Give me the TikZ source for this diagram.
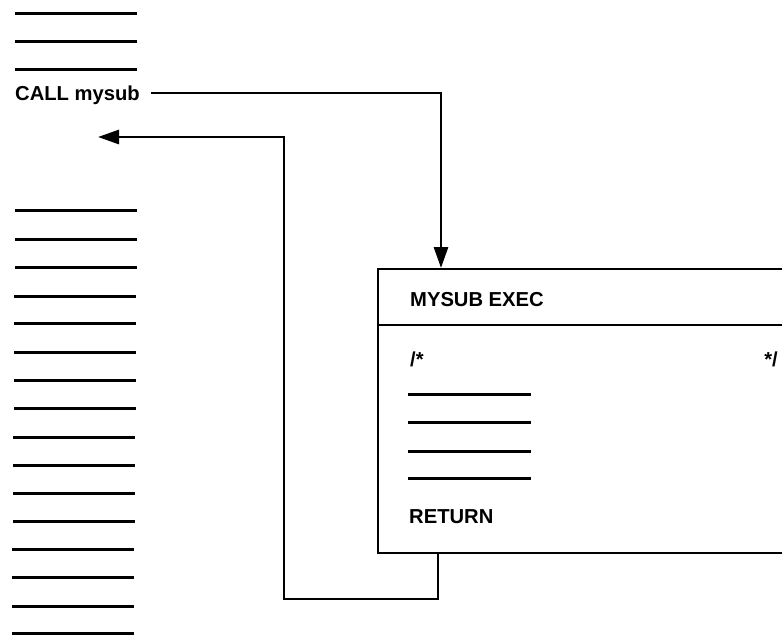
\documentclass[tikz,border=0pt]{standalone}
\usepackage{fontspec}
\setmainfont{Liberation Sans}
\usetikzlibrary{arrows.meta}
\begin{document}
\begin{tikzpicture}[x=1pt,y=-1pt,
  txt/.style={font=\fontsize{20.2}{24}\selectfont\bfseries, inner sep=0pt, anchor=base west, text height=14pt, text depth=0pt},
  codeline/.style={line width=3pt},
  conn/.style={line width=2.8pt},
  boxline/.style={line width=2.4pt},
  tip/.style={-{Triangle[length=21pt,width=14pt]}}]
\useasboundingbox (0,0) rectangle (782,635);
\clip (0,0) rectangle (782,635);
% caller lines
\foreach \y in {13,41,69}
  \draw[codeline] (15,\y) -- (137,\y);
\foreach \y/\xa in {210/15,239/15,267/15,296/14,323/14,352/14,380/14,408/14,437/13,465/13,493/13,521/13,549/12,577/12,606/12,633/12}
  \draw[codeline] (\xa,\y) -- (\xa+122,\y);
\node[txt] (call) at (15,100) {CALL mysub};
% subroutine box
\node[draw, boxline, anchor=north west, inner sep=0pt, minimum width=450pt, minimum height=284pt] (box) at (377,268) {};
\coordinate (d1) at (377,325);
\draw[boxline] (d1) -- (box.east |- d1);
\node[txt] (title) at (410,306) {MYSUB EXEC};
\node[txt] (cm1) at (410,366) {/*};
\node[txt, anchor=base east] (cm2) at (778,366) {*/};
\foreach \y in {394,422,451,478}
  \draw[codeline] (408,\y) -- (531,\y);
\node[txt] (ret) at (409,523) {RETURN};
% call connector
\coordinate (entry) at (441,268);
\draw[conn,tip,shorten <=11pt] (call.east) -| (entry);
% return connector
\coordinate (exit) at (438,552);
\coordinate (r1) at (438,599);
\coordinate (r2) at (284,599);
\coordinate (r3) at (284,137);
\coordinate (back) at (98,137);
\draw[conn,tip] (exit) -- (r1) -- (r2) -- (r3) -- (back);
\end{tikzpicture}
\end{document}
